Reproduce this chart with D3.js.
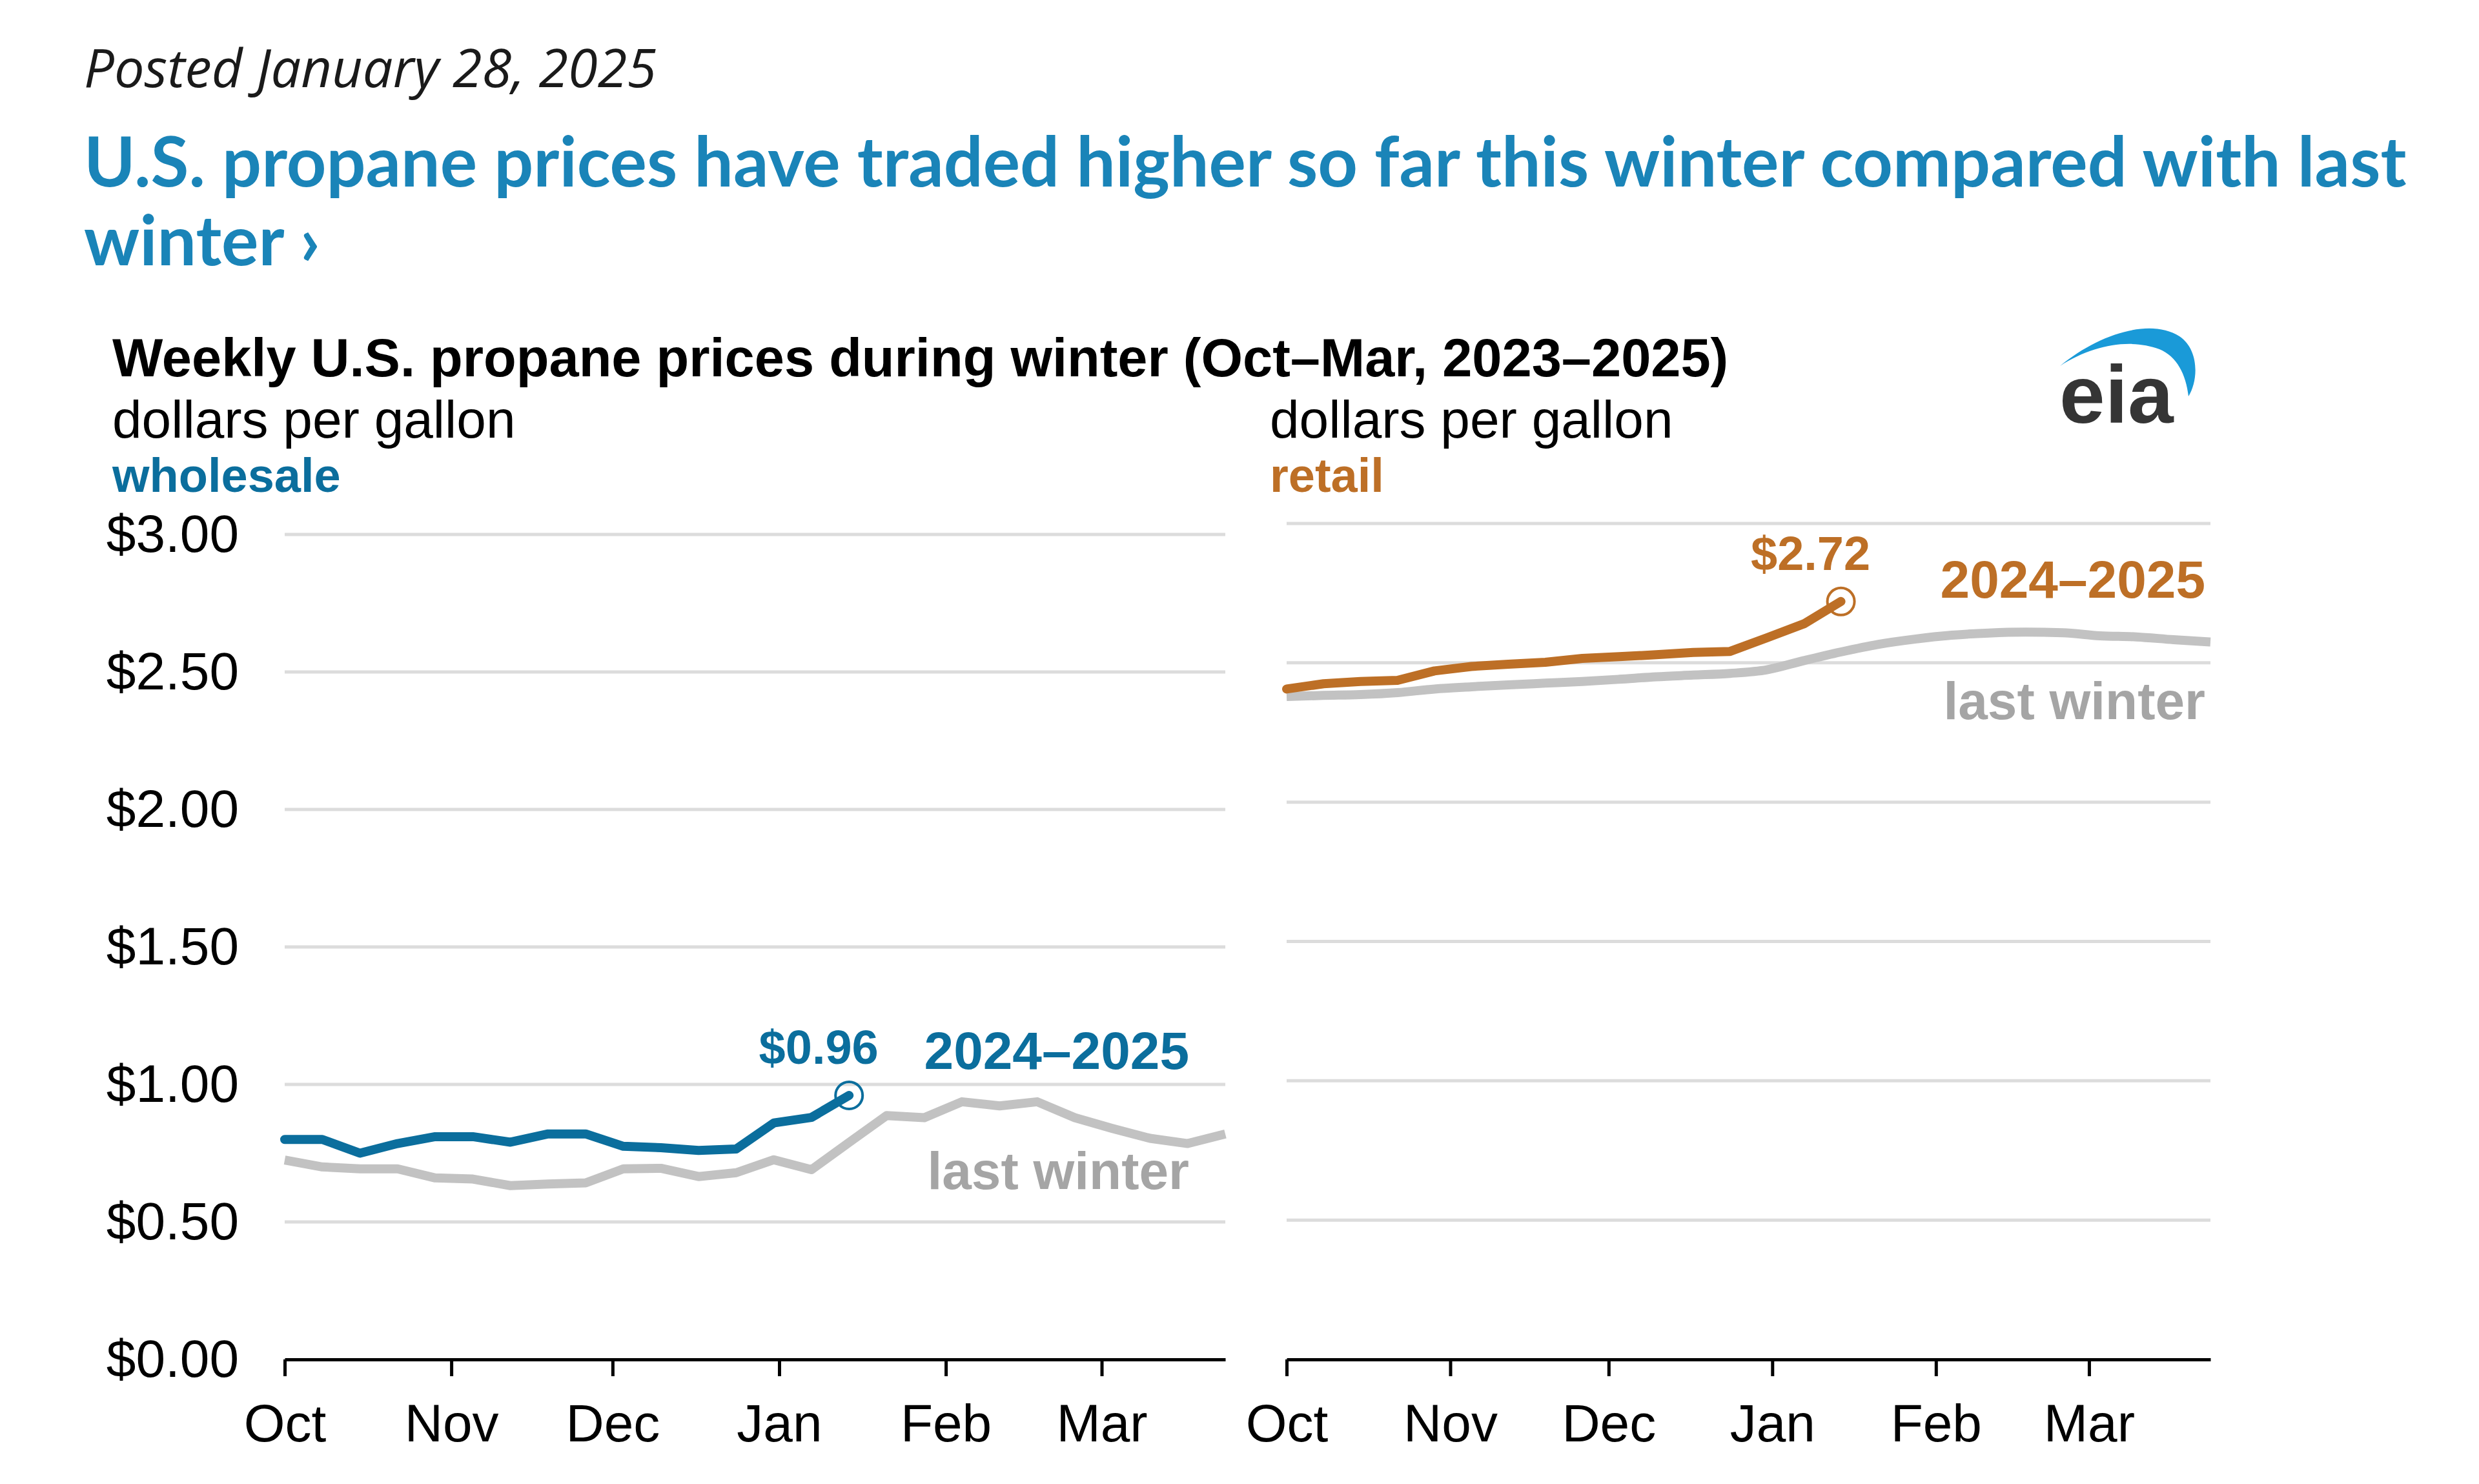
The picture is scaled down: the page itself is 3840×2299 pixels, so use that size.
<!DOCTYPE html>
<html>
<head>
<meta charset="utf-8">
<script src="https://cdn.jsdelivr.net/npm/d3@7"></script>
<style>
  html, body { margin: 0; padding: 0; background: #fff; }
  svg { display: block; }
</style>
</head>
<body>
<div id="chart"></div>
<script>
// ---------------- DATA ----------------
// Season weeks (aligned to the 2023–2024 season calendar; both winters share the same week slots)
const weekDates = ["2023-10-01","2023-10-08","2023-10-15","2023-10-22","2023-10-29",
  "2023-11-05","2023-11-12","2023-11-19","2023-11-26","2023-12-03","2023-12-10",
  "2023-12-17","2023-12-24","2023-12-31","2024-01-07","2024-01-14","2024-01-21",
  "2024-01-28","2024-02-04","2024-02-11","2024-02-18","2024-02-25","2024-03-03",
  "2024-03-10","2024-03-17","2024-03-24"];
const monthTicks = ["2023-10-01","2023-11-01","2023-12-01","2024-01-01","2024-02-01","2024-03-01"];
const yTicks = [0, 0.5, 1.0, 1.5, 2.0, 2.5, 3.0];

// Wholesale propane, dollars per gallon
const wholesale2425 = [0.80, 0.80, 0.75, 0.785, 0.81, 0.81, 0.79, 0.82, 0.82, 0.775, 0.77, 0.76, 0.765, 0.86, 0.88, 0.96];
const wholesaleLast = [0.725, 0.70, 0.693, 0.693, 0.66, 0.656, 0.632, 0.638, 0.642, 0.693, 0.695, 0.665, 0.679,
  0.726, 0.69, 0.789, 0.887, 0.879, 0.937, 0.922, 0.937, 0.879, 0.84, 0.804, 0.785, 0.82];
// Retail propane, dollars per gallon
const retail2425 = [2.406, 2.425, 2.433, 2.437, 2.471, 2.487, 2.495, 2.502, 2.516, 2.522, 2.529, 2.537, 2.541, 2.59, 2.64, 2.72];
const retailLast = [2.379, 2.383, 2.386, 2.393, 2.406, 2.414, 2.421, 2.427, 2.433, 2.441, 2.45, 2.456, 2.462,
  2.475, 2.508, 2.539, 2.566, 2.585, 2.599, 2.607, 2.61, 2.608, 2.597, 2.593, 2.583, 2.575];

const postedText = "Posted January 28, 2025";
const headline1 = "U.S. propane prices have traded higher so far this winter compared with last";
const headline2 = "winter \u203A";
const chartTitle = "Weekly U.S. propane prices during winter (Oct\u2013Mar, 2023\u20132025)";
const unitsLabel = "dollars per gallon";
const panelNames = ["wholesale", "retail"];
const seriesNames = ["2024\u20132025", "last winter"];

// ---------------- STYLE ----------------
const W = 3840, H = 2299;
const FONT = "'Liberation Sans', Arial, Helvetica, sans-serif";
const BLUE = "#0b6e9d", ORANGE = "#bd6f26", GRAY_LINE = "#c2c2c2", GRAY_TEXT = "#a5a5a5";
const GRID = "#dcdcdc", HEAD_BLUE = "#1a84b8";

const parse = d3.timeParse("%Y-%m-%d");
const dates = weekDates.map(parse);
const mTicks = monthTicks.map(parse);
const fmt$ = d3.format("$.2f");

const svg = d3.select("#chart").append("svg")
  .attr("width", W).attr("height", H)
  .attr("viewBox", `0 0 ${W} ${H}`);
svg.append("rect").attr("width", W).attr("height", H).attr("fill", "#fff");

// helper: fit a text element's width by adjusting its font-size
function fitWidth(sel, target) {
  const fs = parseFloat(sel.attr("font-size"));
  const w = sel.node().getComputedTextLength();
  const nfs = fs * target / w;
  sel.attr("font-size", nfs);
  return nfs;
}

// ---------------- HEADER ----------------
const posted = svg.append("text")
  .attr("x", 130).attr("y", 135)
  .attr("font-family", "'Open Sans', 'Noto Sans', sans-serif")
  .attr("font-style", "italic").attr("font-size", 80).attr("fill", "#1a1a1a")
  .text(postedText);
fitWidth(posted, 887);

const h1 = svg.append("text")
  .attr("x", 130).attr("y", 289)
  .attr("font-family", "Lato, 'Open Sans', sans-serif").attr("font-weight", 700)
  .attr("font-size", 100).attr("fill", HEAD_BLUE)
  .text(headline1);
const hfs = fitWidth(h1, 3598);
svg.append("text")
  .attr("x", 130).attr("y", 411)
  .attr("font-family", "Lato, 'Open Sans', sans-serif").attr("font-weight", 700)
  .attr("font-size", hfs).attr("fill", HEAD_BLUE)
  .text(headline2);

// chart title
svg.append("text").attr("x", 174).attr("y", 583)
  .attr("font-family", FONT).attr("font-weight", "bold").attr("font-size", 83)
  .attr("fill", "#000").text(chartTitle);

// ---------------- EIA LOGO ----------------
const logo = svg.append("g");
logo.append("path")
  .attr("d", "M3191,567 C3250,518 3330,492 3376,521 C3406,541 3406,588 3390,614 C3386,580 3372,552 3345,541 C3300,524 3242,534 3191,567 Z")
  .attr("fill", "#1a9ad8");
logo.append("text").attr("x", 3190).attr("y", 655)
  .attr("font-family", FONT).attr("font-weight", "bold").attr("font-size", 127)
  .attr("fill", "#353535").text("eia");

// ---------------- PANELS ----------------
const panels = [
  { name: panelNames[0], color: BLUE, cur: wholesale2425, last: wholesaleLast,
    xr: [441, 1898], yr: [2106, 828], titleX: 174, showY: true,
    lbl2425: [1842, 1656], lblLast: [1842, 1842], lastCurve: d3.curveLinear },
  { name: panelNames[1], color: ORANGE, cur: retail2425, last: retailLast,
    xr: [1993, 3424], yr: [2106, 811], titleX: 1967, showY: false,
    lbl2425: [3416, 926], lblLast: [3416, 1114], lastCurve: d3.curveMonotoneX }
];

panels.forEach(p => {
  const x = d3.scaleTime().domain([dates[0], dates[dates.length - 1]]).range(p.xr);
  const y = d3.scaleLinear().domain([0, 3]).range(p.yr);
  const g = svg.append("g");

  // units + panel name
  g.append("text").attr("x", p.titleX).attr("y", 678)
    .attr("font-family", FONT).attr("font-size", 82).attr("fill", "#000").text(unitsLabel);
  g.append("text").attr("x", p.titleX).attr("y", 762)
    .attr("font-family", FONT).attr("font-weight", "bold").attr("font-size", 74)
    .attr("fill", p.color).text(p.name);

  // gridlines
  g.append("g").selectAll("line")
    .data(yTicks.filter(v => v > 0))
    .join("line")
    .attr("x1", p.xr[0]).attr("x2", p.xr[1])
    .attr("y1", d => y(d)).attr("y2", d => y(d))
    .attr("stroke", GRID).attr("stroke-width", 5);

  // y labels (left panel only)
  if (p.showY) {
    const ya = g.append("g").attr("transform", "translate(370,0)")
      .call(d3.axisLeft(y).tickValues(yTicks).tickFormat(fmt$).tickSize(0).tickPadding(0));
    ya.select(".domain").remove();
    ya.selectAll("text").attr("font-family", FONT).attr("font-size", 82).attr("fill", "#000");
  }

  // x axis
  const xa = g.append("g").attr("transform", `translate(0,${p.yr[0]})`)
    .call(d3.axisBottom(x).tickValues(mTicks).tickFormat(d3.timeFormat("%b"))
      .tickSizeInner(26).tickSizeOuter(0).tickPadding(43));
  xa.select(".domain").attr("stroke", "#000").attr("stroke-width", 5);
  xa.selectAll(".tick line").attr("stroke", "#000").attr("stroke-width", 5);
  xa.selectAll("text").attr("font-family", FONT).attr("font-size", 82).attr("fill", "#000");

  // lines
  const lineLast = d3.line().x((d, i) => x(dates[i])).y(d => y(d)).curve(p.lastCurve);
  const lineCur = d3.line().x((d, i) => x(dates[i])).y(d => y(d));
  g.append("path").datum(p.last).attr("d", lineLast)
    .attr("fill", "none").attr("stroke", GRAY_LINE).attr("stroke-width", 14)
    .attr("stroke-linejoin", "round");
  g.append("path").datum(p.cur).attr("d", lineCur)
    .attr("fill", "none").attr("stroke", p.color).attr("stroke-width", 14)
    .attr("stroke-linejoin", "round").attr("stroke-linecap", "round");

  // end marker + value label
  const li = p.cur.length - 1;
  const px = x(dates[li]), py = y(p.cur[li]);
  g.append("circle").attr("cx", px).attr("cy", py).attr("r", 21)
    .attr("fill", "none").attr("stroke", p.color).attr("stroke-width", 4);
  g.append("text").attr("x", px - 47).attr("y", py - 49)
    .attr("text-anchor", "middle")
    .attr("font-family", FONT).attr("font-weight", "bold").attr("font-size", 74)
    .attr("fill", p.color).text(fmt$(p.cur[li]));

  // series labels
  g.append("text").attr("x", p.lbl2425[0]).attr("y", p.lbl2425[1])
    .attr("text-anchor", "end")
    .attr("font-family", FONT).attr("font-weight", "bold").attr("font-size", 82)
    .attr("fill", p.color).text(seriesNames[0]);
  g.append("text").attr("x", p.lblLast[0]).attr("y", p.lblLast[1])
    .attr("text-anchor", "end")
    .attr("font-family", FONT).attr("font-weight", "bold").attr("font-size", 82)
    .attr("fill", GRAY_TEXT).text(seriesNames[1]);
});
</script>
</body>
</html>
